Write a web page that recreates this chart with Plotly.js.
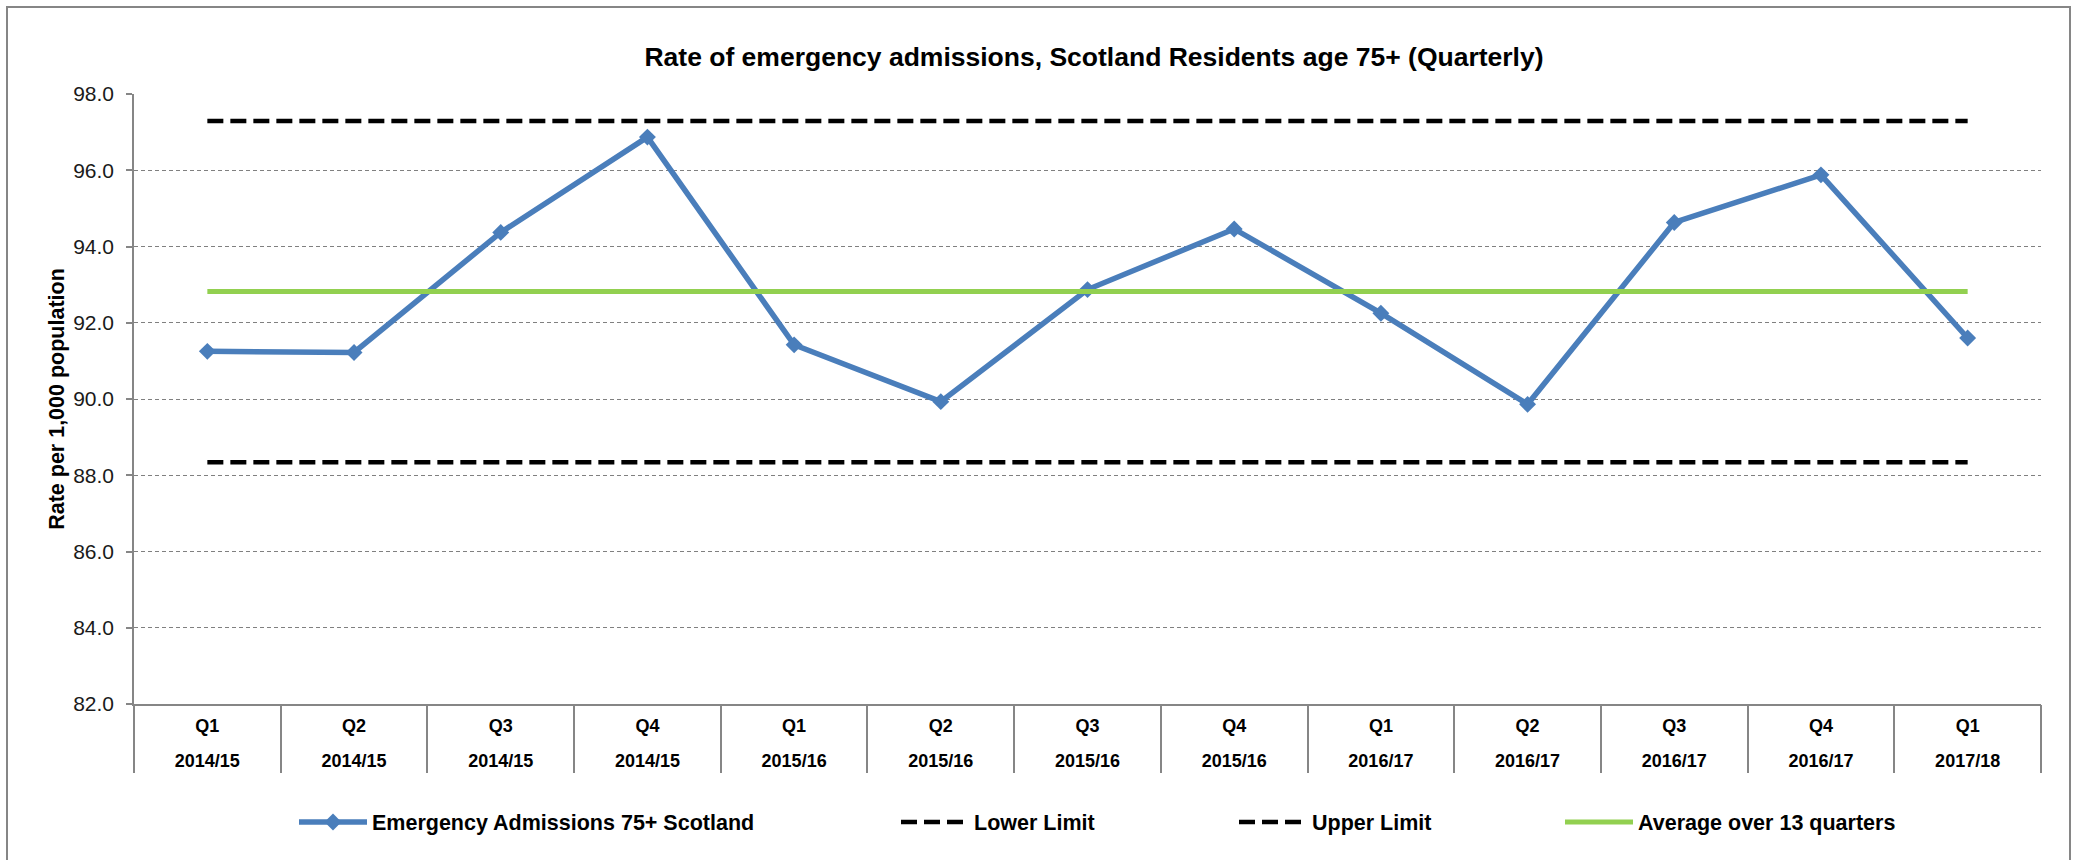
<!DOCTYPE html>
<html>
<head>
<meta charset="utf-8">
<script src="https://cdn.plot.ly/plotly-3.0.1.min.js"></script>
<style>
  html, body { margin: 0; padding: 0; background: #ffffff; }
  #chart { width: 2083px; height: 860px; }
</style>
</head>
<body>
<div id="chart"></div>
<script>
// ---- data ----
const quarters = ['Q1', 'Q2', 'Q3', 'Q4', 'Q1', 'Q2', 'Q3', 'Q4', 'Q1', 'Q2', 'Q3', 'Q4', 'Q1'];
const years = ['2014/15', '2014/15', '2014/15', '2014/15', '2015/16', '2015/16', '2015/16', '2015/16',
               '2016/17', '2016/17', '2016/17', '2016/17', '2017/18'];
const admissions = [91.25, 91.22, 94.37, 96.87, 91.42, 89.93, 92.87, 94.46, 92.25, 89.86, 94.63, 95.88, 91.60];
const lowerLimitValue = 88.34;
const upperLimitValue = 97.29;
const averageValue = 92.82;
const seriesNames = ['Emergency Admissions 75+ Scotland', 'Lower Limit', 'Upper Limit', 'Average over 13 quarters'];
const chartTitle = 'Rate of emergency admissions, Scotland Residents age 75+ (Quarterly)';
const yTitle = 'Rate per 1,000 population';

// ---- derived ----
const categories = quarters.map((q, i) => q + ' ' + years[i]);
const lowerLimit = categories.map(() => lowerLimitValue);
const upperLimit = categories.map(() => upperLimitValue);
const average = categories.map(() => averageValue);
const indices = categories.map((_, i) => i);
const boundaries = [...indices.map(i => i - 0.5), categories.length - 0.5];

const FONT = 'Liberation Sans, Arial, sans-serif';
const GRAY = '#868686';

const traces = [
  {
    x: categories, y: admissions, name: seriesNames[0], type: 'scatter', mode: 'lines+markers',
    line: { color: '#4a7ebb', width: 5.5 },
    marker: { symbol: 'diamond', size: 13, color: '#4a7ebb' },
    legend: 'legend'
  },
  {
    x: categories, y: lowerLimit, name: seriesNames[1], type: 'scatter', mode: 'lines',
    line: { color: '#000000', width: 4.5, dash: '16px,7px' },
    legend: 'legend2'
  },
  {
    x: categories, y: upperLimit, name: seriesNames[2], type: 'scatter', mode: 'lines',
    line: { color: '#000000', width: 4.5, dash: '16px,7px' },
    legend: 'legend3'
  },
  {
    x: categories, y: average, name: seriesNames[3], type: 'scatter', mode: 'lines',
    line: { color: '#92d050', width: 5 },
    legend: 'legend4'
  },
  // invisible helpers so the overlay axes (category dividers, year labels) get drawn
  {
    x: indices, y: admissions, xaxis: 'x2', yaxis: 'y', type: 'scatter', mode: 'markers',
    marker: { opacity: 0 }, showlegend: false, hoverinfo: 'skip'
  },
  {
    x: indices, y: admissions, xaxis: 'x3', yaxis: 'y', type: 'scatter', mode: 'markers',
    marker: { opacity: 0 }, showlegend: false, hoverinfo: 'skip'
  }
];

const W = 2083, H = 860;
const margin = { l: 134, r: 42, t: 94, b: 156 };
const plotW = W - margin.l - margin.r;
const plotH = H - margin.t - margin.b;
const px2paperX = px => (px - margin.l) / plotW;
const px2paperY = py => (H - margin.b - py) / plotH;

function legendAt(xpx) {
  return {
    xref: 'container', yref: 'container',
    x: xpx / W, y: 1 - 822 / H, xanchor: 'left', yanchor: 'middle',
    orientation: 'h', itemwidth: 68, bgcolor: 'rgba(0,0,0,0)', borderwidth: 0,
    font: { family: FONT, size: 21.5, color: '#000000', weight: 'bold' }
  };
}

const layout = {
  width: W, height: H,
  margin: margin,
  paper_bgcolor: '#ffffff', plot_bgcolor: '#ffffff',
  font: { family: FONT, color: '#000000' },
  showlegend: true,
  hovermode: false,
  title: {
    text: chartTitle,
    font: { family: FONT, size: 26.5, color: '#000000', weight: 'bold' },
    xref: 'container', yref: 'container', x: 1094 / W, y: 1 - 57 / H,
    xanchor: 'center', yanchor: 'middle'
  },
  xaxis: {
    type: 'category', categoryorder: 'array', categoryarray: categories,
    range: [-0.5, categories.length - 0.5],
    tickmode: 'array', tickvals: categories, ticktext: quarters,
    ticks: '', showgrid: false, zeroline: false,
    showline: true, linecolor: GRAY, linewidth: 2,
    tickfont: { family: FONT, size: 18, color: '#000000', weight: 'bold' },
    ticklabelstandoff: 4
  },
  xaxis2: {
    overlaying: 'x', anchor: 'y', side: 'bottom', type: 'linear',
    range: [-0.5, categories.length - 0.5],
    tickmode: 'array', tickvals: boundaries,
    ticks: 'outside', ticklen: 68, tickwidth: 1.5, tickcolor: GRAY,
    showticklabels: false, showgrid: false, showline: false, zeroline: false
  },
  xaxis3: {
    overlaying: 'x', anchor: 'y', side: 'bottom', type: 'linear',
    range: [-0.5, categories.length - 0.5],
    tickmode: 'array', tickvals: indices, ticktext: years,
    ticks: '', showgrid: false, showline: false, zeroline: false,
    tickfont: { family: FONT, size: 18, color: '#000000', weight: 'bold' },
    ticklabelstandoff: 44
  },
  yaxis: {
    range: [82, 98], tick0: 82, dtick: 2, tickformat: '.1f',
    showgrid: true, gridcolor: '#808080', gridwidth: 1, griddash: '4px,3px',
    showline: true, linecolor: GRAY, linewidth: 1.5,
    ticks: 'outside', ticklen: 6, tickwidth: 1.5, tickcolor: GRAY,
    zeroline: false,
    tickfont: { family: FONT, size: 21, color: '#1a1a1a' },
    ticklabelstandoff: 8,
    title: {
      text: yTitle, standoff: 3,
      font: { family: FONT, size: 21.5, color: '#000000', weight: 'bold' }
    }
  },
  legend: legendAt(294),
  legend2: legendAt(896),
  legend3: legendAt(1234),
  legend4: legendAt(1560),
  shapes: [{
    type: 'rect', xref: 'paper', yref: 'paper', layer: 'below',
    x0: px2paperX(7), x1: px2paperX(2070), y0: px2paperY(900), y1: px2paperY(7),
    line: { color: GRAY, width: 2 }, fillcolor: 'rgba(0,0,0,0)'
  }]
};

Plotly.newPlot('chart', traces, layout, { displayModeBar: false, responsive: false });
</script>
</body>
</html>
